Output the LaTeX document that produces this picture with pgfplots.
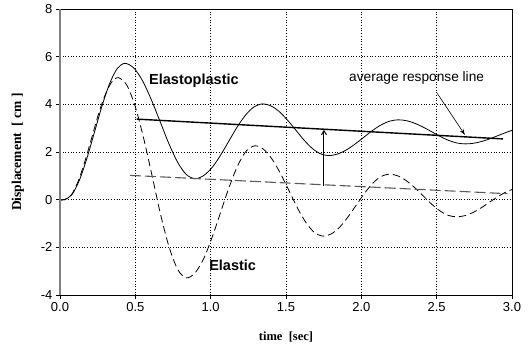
\documentclass[border=0pt]{standalone}
\usepackage{pgfplots}
\pgfplotsset{compat=1.18}
\usepackage{fontspec}
\setmainfont{Liberation Sans}
\newfontfamily\timesfont{Liberation Serif}
\usetikzlibrary{arrows.meta}
\begin{document}
\begin{tikzpicture}[x=1bp,y=1bp]
\path[use as bounding box] (0,0) rectangle (530,347);
\begin{axis}[
  at={(60bp,52bp)}, anchor=south west,
  scale only axis, width=452bp, height=286bp,
  xmin=0, xmax=3, ymin=-4, ymax=8,
  xtick={0,0.5,1,1.5,2,2.5,3}, ytick={-4,-2,0,2,4,6,8},
  grid=major, grid style={black, line width=0.7bp, dotted},
  axis line style={black, line width=0.8bp},
  tick style={black, line width=0.8bp},
  tick align=outside, tickpos=left, major tick length=4bp,
  /pgf/number format/assume math mode=true,
  xticklabel style={/pgf/number format/fixed, /pgf/number format/fixed zerofill, /pgf/number format/precision=1},
  tick label style={font=\fontsize{13bp}{15bp}\selectfont},
  xlabel={\timesfont\bfseries time\ \ [sec]},
  ylabel={\timesfont\bfseries Displacement\ \ [ cm ]},
  xlabel style={at={(axis description cs:0.5,-0.147)}, anchor=center, font=\fontsize{12.5bp}{14bp}\selectfont},
  ylabel style={at={(axis description cs:-0.093,0.5)}, anchor=center, rotate=0, font=\fontsize{13.5bp}{15bp}\selectfont},
  clip=false,
]
% Elastoplastic response
\addplot[black, line width=0.8bp, smooth] coordinates {
(0,0) (0.03,0) (0.08,0.218) (0.13,0.837) (0.18,1.766) (0.23,2.86) (0.28,3.954) (0.33,4.883) (0.38,5.502) (0.43,5.72)
(0.488,5.536) (0.546,5.011) (0.604,4.226) (0.663,3.30) (0.721,2.374) (0.779,1.589) (0.837,1.064) (0.895,0.88)
(0.951,1.000) (1.008,1.340) (1.064,1.849) (1.12,2.45) (1.176,3.051) (1.233,3.560) (1.289,3.900) (1.345,4.02)
(1.399,3.937) (1.454,3.702) (1.508,3.350) (1.563,2.935) (1.617,2.520) (1.671,2.168) (1.726,1.933) (1.78,1.85)
(1.838,1.907) (1.896,2.070) (1.954,2.313) (2.013,2.60) (2.071,2.887) (2.129,3.130) (2.187,3.293) (2.245,3.35)
(2.301,3.312) (2.356,3.202) (2.412,3.038) (2.468,2.845) (2.523,2.652) (2.579,2.488) (2.634,2.378) (2.69,2.34)
(2.745,2.367) (2.80,2.444) (2.855,2.559) (2.91,2.695) (2.965,2.831) (3.0,2.91)
};
% Elastic response
\addplot[black, line width=0.8bp, smooth, dash pattern=on 7.5bp off 4bp] coordinates {
(0,0) (0.03,0) (0.075,0.195) (0.119,0.750) (0.164,1.581) (0.209,2.56) (0.253,3.539) (0.298,4.370) (0.342,4.925) (0.387,5.12)
(0.444,4.800) (0.500,3.890) (0.557,2.527) (0.614,0.92) (0.670,-0.687) (0.727,-2.050) (0.784,-2.960) (0.84,-3.28)
(0.897,-3.069) (0.954,-2.469) (1.010,-1.570) (1.067,-0.51) (1.124,0.550) (1.181,1.449) (1.237,2.049) (1.294,2.26)
(1.351,2.116) (1.407,1.705) (1.464,1.090) (1.521,0.365) (1.577,-0.360) (1.634,-0.975) (1.690,-1.386) (1.747,-1.53)
(1.802,-1.431) (1.857,-1.149) (1.911,-0.727) (1.966,-0.23) (2.021,0.267) (2.076,0.689) (2.130,0.971) (2.185,1.07)
(2.241,1.002) (2.296,0.808) (2.352,0.517) (2.408,0.175) (2.463,-0.167) (2.519,-0.458) (2.574,-0.652) (2.63,-0.72)
(2.685,-0.674) (2.74,-0.541) (2.795,-0.343) (2.85,-0.11) (2.905,0.123) (2.96,0.321) (3.0,0.425)
};
% average response lines
\addplot[black, line width=1.4bp] coordinates {(0.509,3.38) (2.94,2.55)};
\addplot[black!65, line width=1.1bp, dash pattern=on 11bp off 4bp] coordinates {(0.464,1.02) (2.97,0.25)};
% arrows
\addplot[black, line width=1bp, -{Straight Barb[length=4bp,width=5bp]}] coordinates {(1.752,0.56) (1.752,2.93)};
\addplot[black, line width=0.6bp, -{Stealth[length=6bp,width=4bp]}] coordinates {(2.504,4.46) (2.687,2.72)};
% left axis
\draw[gray, line width=1.6bp] (axis cs:0,-4) -- (axis cs:0,8);
% labels
\node[font=\fontsize{14.5bp}{16bp}\selectfont\bfseries] at (axis cs:0.889,4.98) {Elastoplastic};
\node[font=\fontsize{14.5bp}{16bp}\selectfont\bfseries] at (axis cs:1.146,-2.76) {Elastic};
\node[font=\fontsize{13.7bp}{15bp}\selectfont] at (axis cs:2.367,5.12) {average response line};
\end{axis}
\end{tikzpicture}
\end{document}
